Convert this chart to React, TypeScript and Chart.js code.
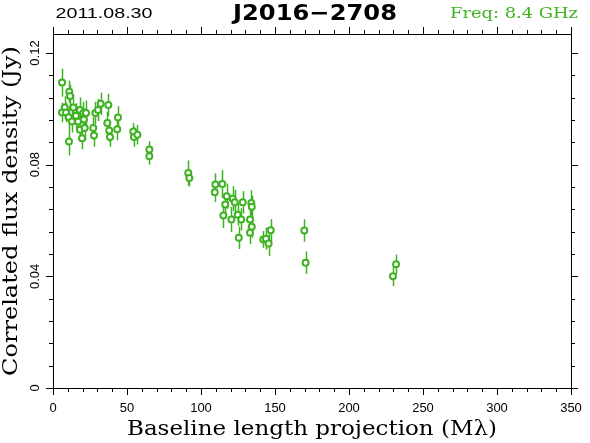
import React, { useEffect, useRef } from "react";
import { Chart, registerables } from "chart.js";

Chart.register(...registerables);

const baseline: number[] = [
  6.1, 11.0, 11.5, 7.9, 6.1, 8.8, 10.6, 13.7, 12.8, 16.9, 18.2, 20.5, 22.3, 18.2, 19.6, 21.4,
  10.8, 27.2, 27.7, 28.6, 32.2, 37.4, 30.4, 36.7, 38.0, 38.5, 43.9, 43.4, 54.3, 54.7, 57.0,
  65.1, 65.1, 91.4, 92.1, 109.7, 109.3, 114.4, 117.4, 116.4, 121.4, 122.8, 128.2, 134.0,
  134.3, 115.1, 120.5, 124.8, 127.2, 133.1, 134.3, 133.1, 125.5, 142.1, 143.9, 147.1, 145.7,
  169.8, 170.7, 229.7, 231.8, 15.5, 20.9,
];
const flux: number[] = [
  0.1094, 0.1061, 0.1046, 0.1005, 0.0987, 0.0987, 0.097, 0.1005, 0.0955, 0.0955, 0.0996,
  0.0985, 0.0985, 0.0925, 0.0895, 0.0931, 0.0883, 0.0931, 0.0904, 0.0985, 0.1018, 0.1014,
  0.0996, 0.0949, 0.0922, 0.0899, 0.0969, 0.0927, 0.0919, 0.0899, 0.0907, 0.0854, 0.083,
  0.077, 0.0752, 0.0729, 0.0701, 0.0731, 0.0687, 0.0657, 0.0678, 0.0665, 0.0665, 0.0663,
  0.0649, 0.0618, 0.0604, 0.0621, 0.0604, 0.0604, 0.0578, 0.0556, 0.0538, 0.0532, 0.0535,
  0.0565, 0.0518, 0.0564, 0.0449, 0.04, 0.0443, 0.0975, 0.0962,
];
const fluxErr: number[] = [
  0.005, 0.004, 0.004, 0.004, 0.0035, 0.0035, 0.004, 0.0045, 0.004, 0.004, 0.0045, 0.004,
  0.0045, 0.004, 0.004, 0.0045, 0.005, 0.004, 0.004, 0.004, 0.004, 0.004, 0.004, 0.004,
  0.004, 0.0035, 0.004, 0.004, 0.003, 0.0035, 0.0035, 0.003, 0.003, 0.0045, 0.003, 0.004,
  0.0035, 0.005, 0.0045, 0.004, 0.0045, 0.0045, 0.004, 0.0045, 0.004, 0.0045, 0.0045, 0.004,
  0.004, 0.004, 0.004, 0.004, 0.004, 0.003, 0.004, 0.004, 0.0045, 0.004, 0.004, 0.0035,
  0.0035, 0.0045, 0.004,
];

const xMajorTicks: number[] = [0, 50, 100, 150, 200, 250, 300, 350];
const xMinorStep = 10;
const yMajorTicks: number[] = [0, 0.04, 0.08, 0.12];
const yTickLabels: string[] = ["0", "0.04", "0.08", "0.12"];
const yMinorStep = 0.008;

const dateText = "2011.08.30";
const sourceText = "J2016\u22122708";
const freqText = "Freq: 8.4 GHz";
const xTitle = "Baseline length projection (M\u03bb)";
const yTitle = "Correlated flux density (Jy)";

const GREEN = "#3fb223";

function fitText(ctx: CanvasRenderingContext2D, text: string, cx: number, cy: number, w: number) {
  const m = ctx.measureText(text).width;
  ctx.save();
  ctx.translate(cx, cy);
  ctx.scale(w / m, 1);
  ctx.textAlign = "center";
  ctx.fillText(text, 0, 0);
  ctx.restore();
}

const framePlugin = {
  id: "framePlugin",
  beforeDatasetsDraw(chart: any) {
    const { ctx, scales } = chart;
    const xs = scales.x;
    const ys = scales.y;
    ctx.save();
    ctx.strokeStyle = GREEN;
    ctx.lineWidth = 1.5;
    for (let i = 0; i < baseline.length; i++) {
      const px = Math.round(xs.getPixelForValue(baseline[i])) + 0.5;
      const y1 = ys.getPixelForValue(flux[i] - fluxErr[i]);
      const y2 = ys.getPixelForValue(flux[i] + fluxErr[i]);
      ctx.beginPath();
      ctx.moveTo(px, y1);
      ctx.lineTo(px, y2);
      ctx.stroke();
    }
    ctx.restore();
  },
  afterDraw(chart: any) {
    const { ctx, chartArea, scales } = chart;
    const xs = scales.x;
    const ys = scales.y;
    const { left, right, top, bottom } = chartArea;
    ctx.save();
    ctx.strokeStyle = "#000";
    ctx.lineWidth = 1;
    ctx.strokeRect(Math.round(left) + 0.5, Math.round(top) + 0.5, Math.round(right - left), Math.round(bottom - top));
    ctx.beginPath();
    for (let v = 0; v <= 350 + 1e-6; v += xMinorStep) {
      const px = Math.round(xs.getPixelForValue(v)) + 0.5;
      const major = xMajorTicks.includes(Math.round(v));
      const len = major ? 7 : 4;
      ctx.moveTo(px, bottom);
      ctx.lineTo(px, bottom + len);
      ctx.moveTo(px, top);
      ctx.lineTo(px, top - len);
    }
    for (let k = 0; k * yMinorStep <= ys.max + 1e-9; k++) {
      const v = k * yMinorStep;
      const py = Math.round(ys.getPixelForValue(v)) + 0.5;
      const major = k % 5 === 0;
      const len = major ? 7 : 4;
      ctx.moveTo(left, py);
      ctx.lineTo(left - len, py);
      ctx.moveTo(right, py);
      ctx.lineTo(right + len, py);
    }
    ctx.stroke();

    ctx.fillStyle = "#000";
    ctx.font = '13px "Liberation Sans"';
    ctx.textAlign = "center";
    ctx.textBaseline = "middle";
    xMajorTicks.forEach((v) => {
      ctx.fillText(String(v), xs.getPixelForValue(v), 408);
    });
    yMajorTicks.forEach((v, i) => {
      const py = ys.getPixelForValue(v);
      ctx.save();
      ctx.translate(35, py);
      ctx.rotate(-Math.PI / 2);
      ctx.fillText(yTickLabels[i], 0, 0);
      ctx.restore();
    });

    ctx.font = '20px "DejaVu Serif"';
    ctx.textBaseline = "alphabetic";
    fitText(ctx, xTitle, (left + right) / 2, 435, 370);
    ctx.save();
    ctx.translate(17, (top + bottom) / 2);
    ctx.rotate(-Math.PI / 2);
    fitText(ctx, yTitle, 0, 0, 330);
    ctx.restore();

    ctx.textBaseline = "middle";
    ctx.font = '14px "Liberation Sans"';
    fitText(ctx, dateText, 104, 14, 97);
    ctx.font = 'bold 22px "DejaVu Sans"';
    fitText(ctx, sourceText, 315, 14, 164);
    ctx.fillStyle = GREEN;
    ctx.font = '14px "DejaVu Serif"';
    fitText(ctx, freqText, 514, 14, 128);
    ctx.restore();
  },
};

export default function App() {
  const ref = useRef<HTMLCanvasElement | null>(null);
  useEffect(() => {
    document.body.style.margin = "0";
    const canvas = ref.current;
    if (!canvas) return;
    const chart = new Chart(canvas, {
      type: "scatter",
      data: {
        datasets: [
          {
            data: baseline.map((x, i) => ({ x, y: flux[i] })),
            pointStyle: "circle",
            pointRadius: 3,
            pointBorderWidth: 2,
            pointBackgroundColor: "#fff",
            pointBorderColor: GREEN,
            showLine: false,
          },
        ],
      },
      options: {
        responsive: false,
        animation: false,
        events: [],
        layout: { padding: { left: 53, right: 19, top: 34, bottom: 55 } },
        plugins: { legend: { display: false }, tooltip: { enabled: false } },
        scales: {
          x: { type: "linear", min: 0, max: 350, display: false },
          y: { type: "linear", min: 0, max: 0.1268, display: false },
        },
      },
      plugins: [framePlugin],
    });
    return () => chart.destroy();
  }, []);
  return (
    <div style={{ position: "absolute", left: 0, top: 0, width: 590, height: 443, background: "#fff" }}>
      <canvas ref={ref} width={590} height={443} style={{ display: "block", width: 590, height: 443 }} />
    </div>
  );
}
